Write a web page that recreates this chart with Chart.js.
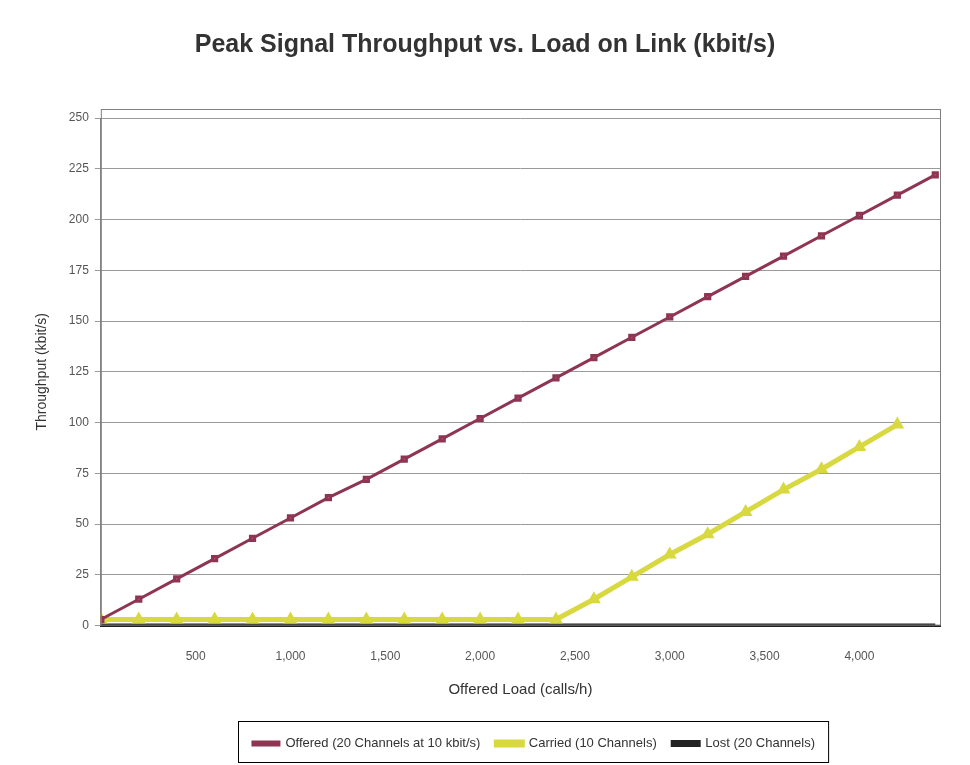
<!DOCTYPE html>
<html>
<head>
<meta charset="utf-8">
<script src="https://cdn.jsdelivr.net/npm/chart.js@4.4.1/dist/chart.umd.min.js"></script>
<style>
  html, body { margin: 0; padding: 0; background: #ffffff; }
  #wrap { width: 970px; height: 765px; position: relative; }
</style>
</head>
<body>
<div id="wrap"><canvas id="c" width="970" height="765"></canvas></div>
<script>
// Offered load on the x axis (calls per hour)
const loadPoints = [0, 200, 400, 600, 800, 1000, 1200, 1400, 1600, 1800, 2000, 2200,
                    2400, 2600, 2800, 3000, 3200, 3400, 3600, 3800, 4000, 4200, 4400];

// Traffic in kbit/s for each series
const offeredTraffic = [3, 13, 23, 33, 43, 53, 63, 72, 82, 92, 102, 112,
                        122, 132, 142, 152, 162, 172, 182, 192, 202, 212, 222];
const carriedTraffic = [3, 3, 3, 3, 3, 3, 3, 3, 3, 3, 3, 3,
                        3, 13, 24, 35, 45, 56, 67, 77, 88, 99, null];
const lostTraffic    = [0, 0, 0, 0, 0, 0, 0, 0, 0, 0, 0, 0,
                        0, 0, 0, 0, 0, 0, 0, 0, 0, 0, 0];

const xTickValues = [500, 1000, 1500, 2000, 2500, 3000, 3500, 4000];

const seriesNames = ['Offered (20 Channels at 10 kbit/s)', 'Carried (10 Channels)', 'Lost (20 Channels)'];

const chartTitle = 'Peak Signal Throughput vs. Load on Link (kbit/s)';
const xAxisTitle = 'Offered Load (calls/h)';
const yAxisTitle = 'Throughput (kbit/s)';

function pairs(xs, ys) {
  return xs.map((x, i) => ({ x: x, y: ys[i] })).filter(p => p.y !== null);
}

const LEGEND_SHIFT = 49;

// legend sits a little right of centre; frame around plot area and legend items
const framePlugin = {
  id: 'frames',
  afterLayout(chart) {
    const lg = chart.legend;
    lg.left += LEGEND_SHIFT;
    lg.right += LEGEND_SHIFT;
  },
  afterDraw(chart) {
    const ctx = chart.ctx;
    const a = chart.chartArea;
    ctx.save();
    ctx.strokeStyle = '#808080';
    ctx.lineWidth = 1;
    ctx.strokeRect(a.left + 0.5, a.top - 8.5, a.right - a.left, a.bottom - a.top + 8);
    const boxes = chart.legend.legendHitBoxes;
    if (boxes && boxes.length) {
      let l = Infinity, r = -Infinity, t = Infinity, b = -Infinity;
      boxes.forEach(h => { l = Math.min(l, h.left); r = Math.max(r, h.left + h.width);
                           t = Math.min(t, h.top); b = Math.max(b, h.top + h.height); });
      ctx.strokeStyle = '#000000';
      ctx.strokeRect(Math.round(l) - 14.5, Math.round(t) - 15.5, (r - l) + 28, (b - t) + 28);
    }
    ctx.restore();
  }
};

new Chart(document.getElementById('c'), {
  type: 'line',
  data: {
    datasets: [
      {
        label: seriesNames[0],
        data: pairs(loadPoints, offeredTraffic),
        borderColor: '#8e3552',
        backgroundColor: '#c0507a',
        borderWidth: 3,
        pointRadius: 3,
        pointStyle: 'rect',
        order: 1
      },
      {
        label: seriesNames[1],
        data: pairs(loadPoints, carriedTraffic),
        borderColor: '#d8d840',
        backgroundColor: '#c8c830',
        borderWidth: 5,
        pointRadius: 3,
        pointStyle: 'triangle',
        order: 2
      },
      {
        label: seriesNames[2],
        data: pairs(loadPoints, lostTraffic),
        borderColor: '#222222',
        backgroundColor: '#222222',
        borderWidth: 4,
        pointRadius: 0,
        order: 3
      }
    ]
  },
  options: {
    responsive: false,
    animation: false,
    layout: { padding: { left: 30, right: 30, top: 10, bottom: 5 } },
    plugins: {
      title: {
        display: true,
        text: chartTitle,
        color: '#333333',
        font: { family: 'Liberation Sans', size: 25, weight: 'bold' },
        padding: { top: 20, bottom: 58 }
      },
      legend: {
        position: 'bottom',
        labels: {
          color: '#333333',
          font: { family: 'Liberation Sans', size: 13 },
          boxWidth: 26,
          boxHeight: 3,
          padding: 16
        }
      },
      tooltip: { enabled: false }
    },
    scales: {
      x: {
        type: 'linear',
        min: 0,
        max: 4425,
        afterBuildTicks: s => { s.ticks = xTickValues.map(v => ({ value: v })); },
        title: {
          display: true,
          text: xAxisTitle,
          color: '#333333',
          font: { family: 'Liberation Sans', size: 15 },
          padding: { top: 1, bottom: 22 }
        },
        ticks: {
          color: '#555555',
          font: { family: 'Liberation Sans', size: 12 },
          padding: 16,
          maxRotation: 0,
          autoSkip: false
        },
        grid: { display: false },
        border: { display: true, color: '#222222', width: 2 }
      },
      y: {
        min: 0,
        max: 250,
        title: {
          display: true,
          text: yAxisTitle,
          color: '#333333',
          font: { family: 'Liberation Sans', size: 14 },
          padding: { bottom: 12 }
        },
        ticks: {
          stepSize: 25,
          color: '#555555',
          font: { family: 'Liberation Sans', size: 12 },
          padding: 6
        },
        grid: { color: '#9a9a9a', lineWidth: 1, drawTicks: true, tickLength: 6 },
        border: { display: true, color: '#808080' }
      }
    }
  },
  plugins: [framePlugin]
});
</script>
</body>
</html>
